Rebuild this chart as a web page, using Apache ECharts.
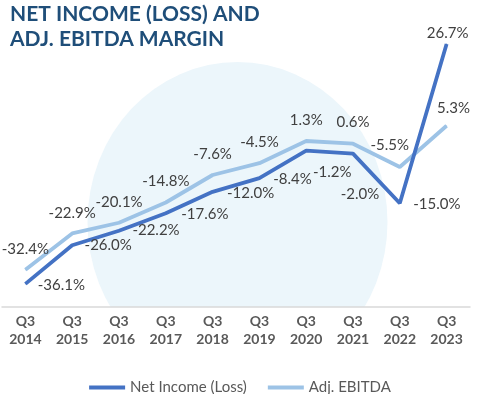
<!DOCTYPE html>
<html>
<head>
<meta charset="utf-8">
<script src="https://cdn.jsdelivr.net/npm/echarts@6/dist/echarts.min.js"></script>
<style>html,body{margin:0;padding:0;background:#fff}#c{width:480px;height:394px}</style>
</head>
<body>
<div id="c"></div>
<script>
var categories = ['Q3 2014','Q3 2015','Q3 2016','Q3 2017','Q3 2018','Q3 2019','Q3 2020','Q3 2021','Q3 2022','Q3 2023'];
var netIncome = [-36.1, -26.0, -22.2, -17.6, -12.0, -8.4, -1.2, -2.0, -15.0, 26.7];
var adjEbitda = [-32.4, -22.9, -20.1, -14.8, -7.6, -4.5, 1.3, 0.6, -5.5, 5.3];
var seriesNames = ['Net Income (Loss)', 'Adj. EBITDA'];
var titleText = 'NET INCOME (LOSS) AND\nADJ. EBITDA MARGIN';

// label offsets (layout only)
var netOffsets = [[36,1],[36,0],[37,-1],[39,1],[38,1],[33,1],[26,22],[7,41],[37,1],[1,-11]];
var ebitdaOffsets = [[0,-21],[0,-20],[0,-21],[0,-21],[0,-21],[0,-21],[0,-21],[0,-22],[-10,-22],[7,-18]];

function items(vals, offs) {
  return vals.map(function (v, i) {
    return { value: v, label: { offset: offs[i] } };
  });
}

var FONT = 'Lato';
var chart = echarts.init(document.getElementById('c'), null, { renderer: 'canvas' });
chart.setOption({
  animation: false,
  backgroundColor: '#ffffff',
  title: {
    text: titleText,
    left: 10, top: 2, padding: 0,
    textStyle: { fontFamily: FONT, fontSize: 21, fontWeight: 'bold', color: '#1F4E79', lineHeight: 24.5 }
  },
  graphic: [
    { type: 'circle', x: 237.5, y: 222, scaleY: 160/150, shape: { cx: 0, cy: 0, r: 150 }, style: { fill: '#ECF6FB' }, z: -10, silent: true },
    { type: 'rect', shape: { x: 0, y: 307, width: 480, height: 87 }, style: { fill: '#ffffff' }, z: -9, silent: true }
  ],
  legend: {
    data: seriesNames,
    left: 'center', top: 375,
    icon: 'rect', itemWidth: 36, itemHeight: 4, itemGap: 21,
    textStyle: { fontFamily: FONT, fontSize: 15, color: '#595959' }
  },
  grid: { left: 2, right: 10, top: 31.4, bottom: 87.6, containLabel: false },
  xAxis: {
    type: 'category',
    data: categories,
    boundaryGap: true,
    axisLine: { onZero: false, lineStyle: { color: '#D9D9D9', width: 1.5 } },
    axisTick: { show: false },
    axisLabel: {
      margin: 6,
      fontFamily: FONT, fontSize: 14, fontWeight: 'bold', color: '#595959', lineHeight: 18,
      formatter: function (v) { return v.replace(' ', '\n'); }
    }
  },
  yAxis: {
    type: 'value', min: -42, max: 30, show: false, splitLine: { show: false }
  },
  series: [
    {
      name: seriesNames[0], type: 'line', z: 4,
      data: items(netIncome, netOffsets),
      symbol: 'circle', symbolSize: 1, showSymbol: true,
      lineStyle: { color: '#4472C4', width: 3.8 },
      itemStyle: { color: '#4472C4' },
      label: { show: true, position: 'inside', fontFamily: FONT, fontSize: 15, color: '#404040',
        formatter: function (p) { return p.value.toFixed(1) + '%'; } }
    },
    {
      name: seriesNames[1], type: 'line', z: 3,
      data: items(adjEbitda, ebitdaOffsets),
      symbol: 'circle', symbolSize: 1, showSymbol: true,
      lineStyle: { color: '#9DC3E6', width: 3.8 },
      itemStyle: { color: '#9DC3E6' },
      label: { show: true, position: 'inside', fontFamily: FONT, fontSize: 15, color: '#404040',
        formatter: function (p) { return p.value.toFixed(1) + '%'; } }
    }
  ]
});
</script>
</body>
</html>
